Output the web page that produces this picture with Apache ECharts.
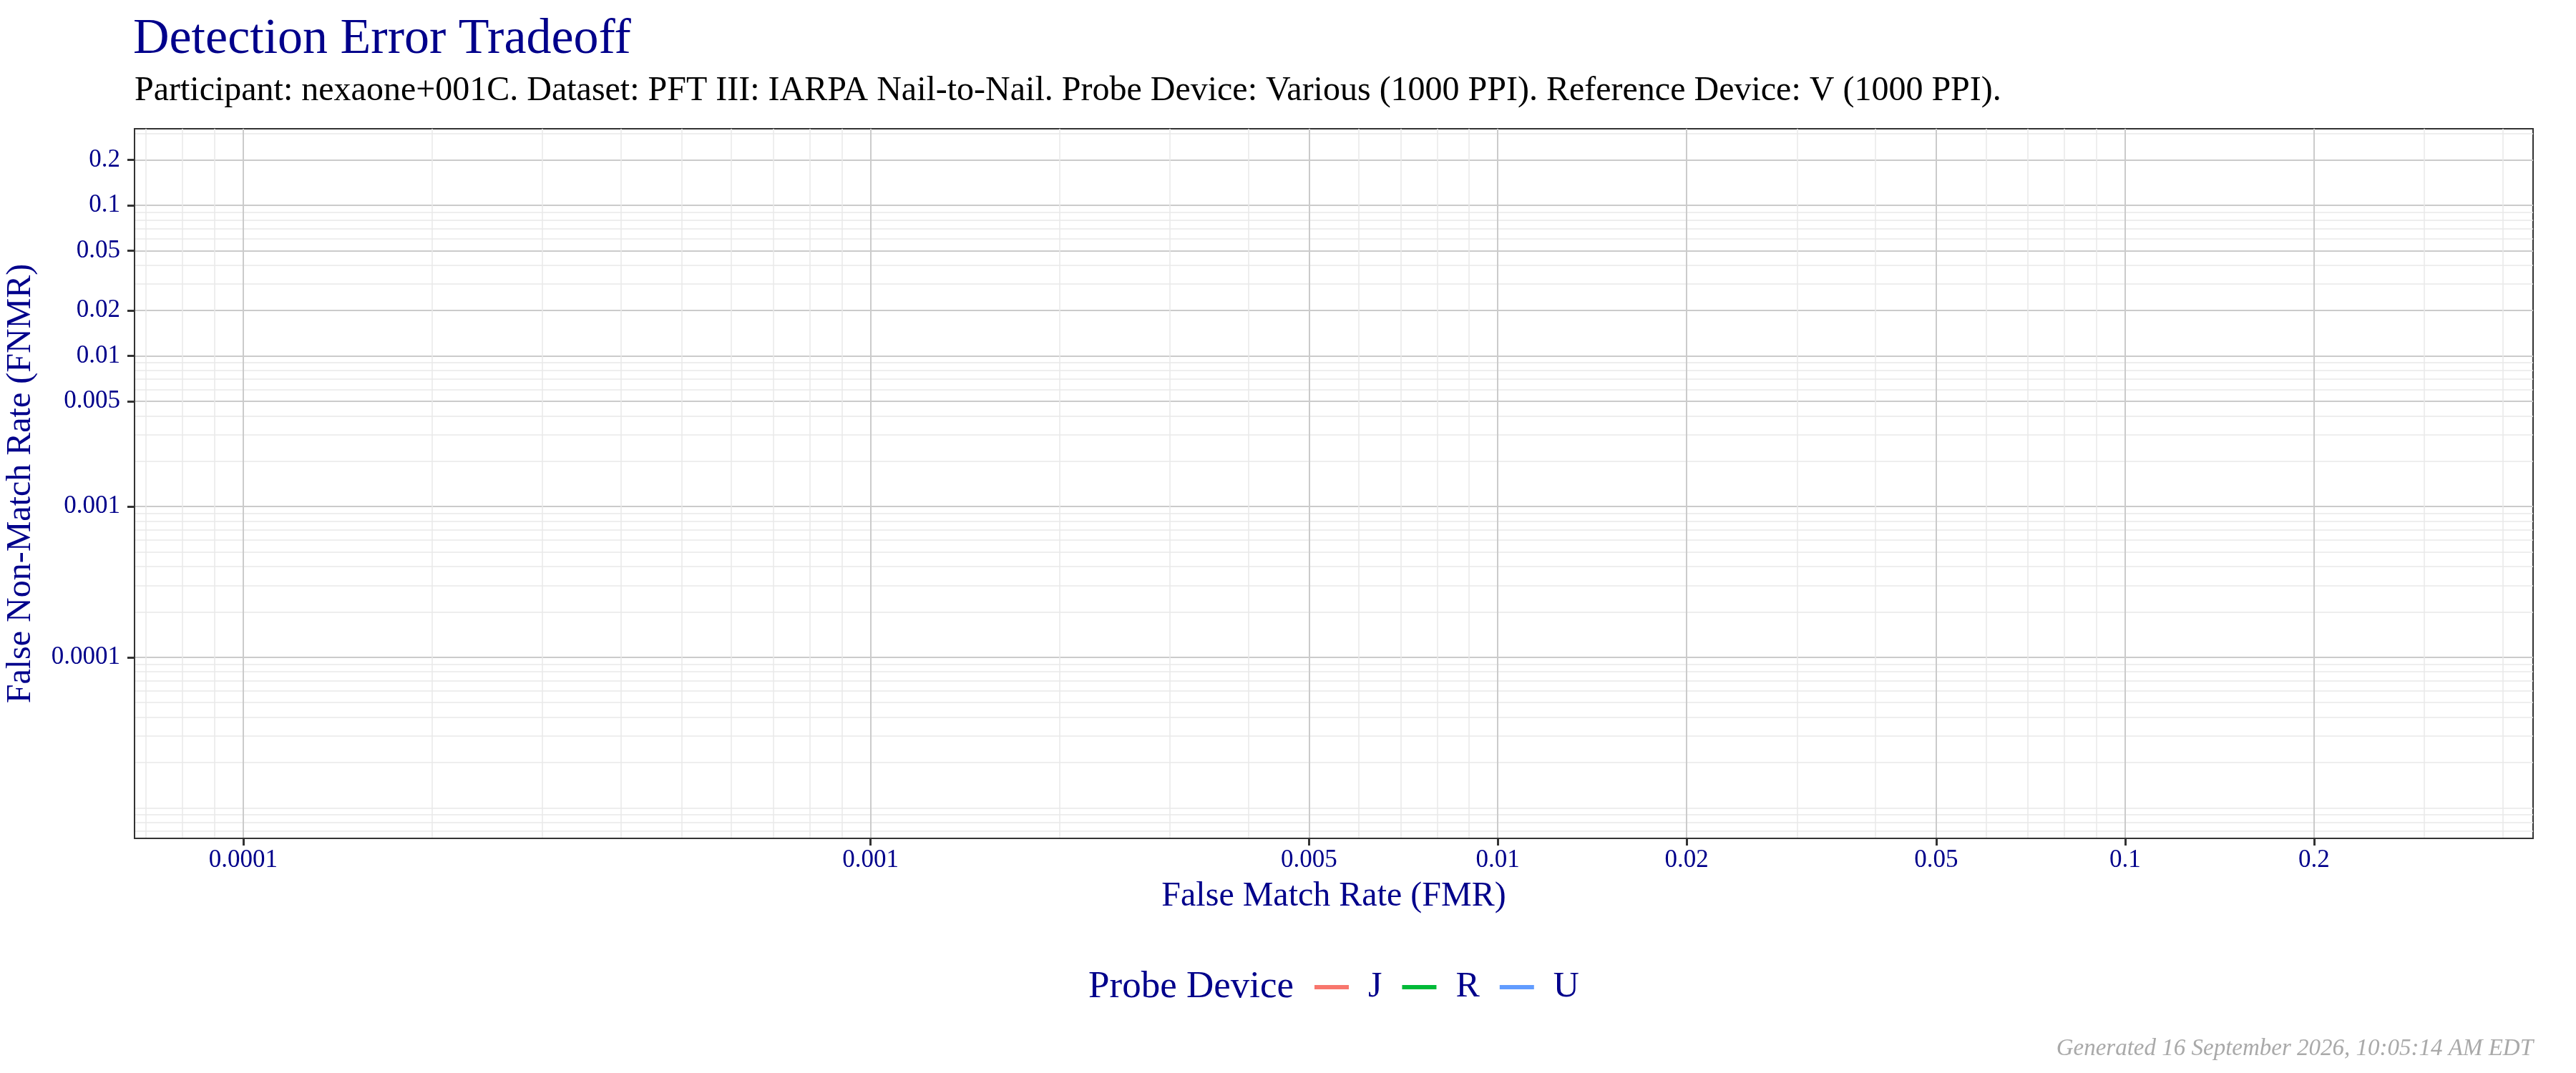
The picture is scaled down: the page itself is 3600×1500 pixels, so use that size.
<!DOCTYPE html>
<html>
<head>
<meta charset="utf-8">
<title>Detection Error Tradeoff</title>
<script src="https://cdn.jsdelivr.net/npm/echarts@6/dist/echarts.min.js"></script>
<style>
    html, body { margin: 0; padding: 0; background: #ffffff; }
    #chart { width: 3600px; height: 1500px; }
</style>
</head>
<body>
<div id="chart"></div>
<script>
// Cores do tema
const COLORS = {
    navy: '#00008B',
    axis: '#333333',
    major: '#cbcbcb',
    minor: '#e8e8e8',
    footer: '#a9a9a9'
};
const FONT = '"Liberation Serif", "Times New Roman", serif';

// Dispositivos de prova (legenda)
const probeDevices = ['J', 'R', 'U'];
const deviceColors = ['#F8766D', '#00BA38', '#619CFF'];

// Curvas DET [FMR, FNMR]: nenhum ponto aparece no gráfico
const detJ = [];
const detR = [];
const detU = [];

// Marcas dos eixos
const fmrTicks = [0.0001, 0.001, 0.005, 0.01, 0.02, 0.05, 0.1, 0.2];
const fmrTickLabels = ['0.0001', '0.001', '0.005', '0.01', '0.02', '0.05', '0.1', '0.2'];
const fnmrTicks = [0.0001, 0.001, 0.005, 0.01, 0.02, 0.05, 0.1, 0.2];
const fnmrTickLabels = ['0.0001', '0.001', '0.005', '0.01', '0.02', '0.05', '0.1', '0.2'];

// Limites dos eixos
const fmrRange = [6.71e-5, 0.447];
const fnmrRange = [6.28e-6, 0.322];

const log10 = v => Math.log10(v);

// Linhas secundárias: k * 10^n que não são marcas principais
function minorValues(range, major) {
    const out = [];
    for (let n = -7; n <= 1; n++) {
        for (let k = 1; k <= 9; k++) {
            const v = k * Math.pow(10, n);
            if (v < range[0] || v > range[1]) continue;
            if (major.some(m => Math.abs(m - v) / m < 1e-9)) continue;
            out.push(log10(v));
        }
    }
    return out;
}

function tickFormatter(ticks, labels) {
    return value => {
        const i = ticks.findIndex(t => Math.abs(log10(t) - value) < 1e-6);
        return i >= 0 ? labels[i] : '';
    };
}

const labelStyle = {
    fontFamily: FONT,
    fontSize: 35,
    color: COLORS.navy
};

function minorAxis(range, position) {
    return {
        type: 'value',
        position: position,
        min: log10(range[0]),
        max: log10(range[1]),
        axisLine: { show: false },
        axisTick: { show: false, customValues: minorValues(range, position === 'bottom' ? fmrTicks : fnmrTicks) },
        axisLabel: { show: false },
        splitLine: { show: true, lineStyle: { color: COLORS.minor, width: 1.5 } }
    };
}

const chart = echarts.init(document.getElementById('chart'));

const option = {
    animation: false,
    backgroundColor: '#ffffff',
    title: [
        {
            text: 'Detection Error Tradeoff',
            left: 186,
            top: 21,
            padding: 0,
            textStyle: { fontFamily: FONT, fontSize: 70, fontWeight: 'normal', color: COLORS.navy }
        },
        {
            text: 'Participant: nexaone+001C. Dataset: PFT III: IARPA Nail-to-Nail. Probe Device: Various (1000 PPI). Reference Device: V (1000 PPI).',
            left: 188,
            top: 103,
            padding: 0,
            textStyle: { fontFamily: FONT, fontSize: 48, fontWeight: 'normal', color: '#000000' }
        },
        {
            text: 'Generated 16 September 2026, 10:05:14 AM EDT',
            right: 60,
            top: 1450,
            padding: 0,
            textStyle: { fontFamily: FONT, fontSize: 33, fontStyle: 'italic', fontWeight: 'normal', color: COLORS.footer }
        }
    ],
    graphic: [{
        type: 'text',
        x: 1808,
        y: 1380,
        style: {
            text: 'Probe Device',
            font: '53px ' + FONT,
            fill: COLORS.navy,
            textAlign: 'right',
            textVerticalAlign: 'middle'
        }
    }],
    legend: {
        data: probeDevices,
        left: 1837,
        top: 1352,
        padding: 0,
        icon: 'rect',
        itemWidth: 48,
        itemHeight: 6,
        itemGap: 28,
        textStyle: {
            fontFamily: FONT,
            fontSize: 50,
            lineHeight: 56,
            color: COLORS.navy,
            padding: [0, 0, 0, 22]
        }
    },
    grid: {
        left: 188,
        top: 180,
        width: 3352,
        height: 992,
        containLabel: false,
        outerBoundsMode: 'none',
        show: true,
        borderColor: COLORS.axis,
        borderWidth: 2
    },
    xAxis: [
        minorAxis(fmrRange, 'bottom'),
        {
            type: 'value',
            position: 'bottom',
            min: log10(fmrRange[0]),
            max: log10(fmrRange[1]),
            name: 'False Match Rate (FMR)',
            nameLocation: 'middle',
            nameGap: 57,
            nameTextStyle: { fontFamily: FONT, fontSize: 48, color: COLORS.navy },
            axisLine: { show: true, lineStyle: { color: COLORS.axis, width: 2 } },
            axisTick: {
                show: true,
                customValues: fmrTicks.map(log10),
                length: 10,
                lineStyle: { color: COLORS.axis, width: 3 }
            },
            axisLabel: {
                show: true,
                customValues: fmrTicks.map(log10),
                margin: 13,
                formatter: tickFormatter(fmrTicks, fmrTickLabels),
                ...labelStyle
            },
            splitLine: { show: true, lineStyle: { color: COLORS.major, width: 2 } }
        }
    ],
    yAxis: [
        minorAxis(fnmrRange, 'left'),
        {
            type: 'value',
            position: 'left',
            min: log10(fnmrRange[0]),
            max: log10(fnmrRange[1]),
            name: 'False Non-Match Rate (FNMR)',
            nameLocation: 'middle',
            nameGap: 135,
            nameTextStyle: { fontFamily: FONT, fontSize: 48, color: COLORS.navy },
            axisLine: { show: true, lineStyle: { color: COLORS.axis, width: 2 } },
            axisTick: {
                show: true,
                customValues: fnmrTicks.map(log10),
                length: 10,
                lineStyle: { color: COLORS.axis, width: 3 }
            },
            axisLabel: {
                show: true,
                customValues: fnmrTicks.map(log10),
                margin: 20,
                formatter: tickFormatter(fnmrTicks, fnmrTickLabels),
                ...labelStyle
            },
            splitLine: { show: true, lineStyle: { color: COLORS.major, width: 2 } }
        }
    ],
    series: [detJ, detR, detU].map((data, i) => ({
        name: probeDevices[i],
        type: 'line',
        xAxisIndex: 1,
        yAxisIndex: 1,
        showSymbol: false,
        color: deviceColors[i],
        lineStyle: { width: 3 },
        data: data.map(([fmr, fnmr]) => [log10(fmr), log10(fnmr)])
    }))
};

chart.setOption(option);
</script>
</body>
</html>
